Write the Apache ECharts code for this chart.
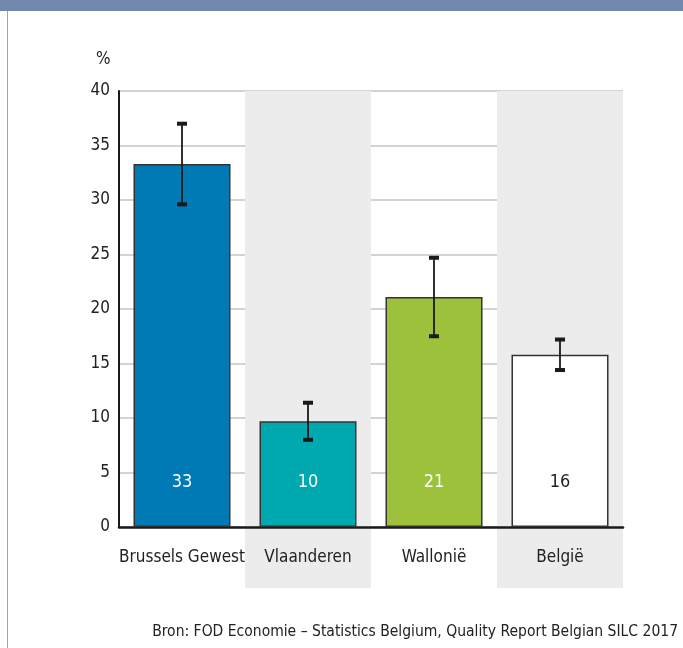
<!DOCTYPE html>
<html>
<head>
<meta charset="utf-8">
<script src="https://cdn.jsdelivr.net/npm/echarts@6/dist/echarts.min.js"></script>
<style>
  html, body { margin: 0; padding: 0; background: #fff; }
  #chart { width: 683px; height: 648px; }
</style>
</head>
<body>
<div id="chart"></div>
<script>
// regions and values (%)
const regions = ["Brussels Gewest", "Vlaanderen", "Wallonië", "België"];
const values = [33.3, 9.7, 21.1, 15.8];
const valueLabels = ["33", "10", "21", "16"];
const errLow = [29.6, 8.0, 17.5, 14.4];
const errHigh = [37.0, 11.4, 24.7, 17.2];
const barColors = ["#007ab5", "#00a8b0", "#9dc13a", "#ffffff"];
const labelColors = ["#ffffff", "#ffffff", "#ffffff", "#222222"];
const shaded = [0, 1, 0, 1];

const FONT = "'DejaVu Sans Condensed', sans-serif";

let myChart = echarts.init(document.getElementById("chart"));

const option = {
  animation: false,
  backgroundColor: "#ffffff",
  grid: { left: 119, right: 60, top: 91, bottom: 121 },
  graphic: [
    { type: "rect", shape: { x: 0, y: 0, width: 683, height: 11 }, style: { fill: "#7189ac" } },
    { type: "rect", shape: { x: 7, y: 11, width: 1, height: 637 }, style: { fill: "#93a7cc" } },
    {
      type: "text", left: 96, top: 51,
      style: { text: "%", fontSize: 17, fontFamily: FONT, fill: "#222" }
    },
    {
      type: "text", right: 5, top: 624,
      style: { text: "Bron: FOD Economie – Statistics Belgium, Quality Report Belgian SILC 2017", fontSize: 15.5, fontFamily: FONT, fill: "#222" }
    }
  ],
  xAxis: {
    type: "category",
    data: regions,
    axisLine: { lineStyle: { color: "#1a1a1a", width: 2.5 } },
    axisTick: { show: false },
    axisLabel: { interval: 0, color: "#222", fontSize: 17, fontFamily: FONT, margin: 22 }
  },
  yAxis: {
    type: "value",
    min: 0, max: 40, interval: 5,
    axisLine: { show: true, lineStyle: { color: "#1a1a1a", width: 2 } },
    axisTick: { show: false },
    axisLabel: { color: "#222", fontSize: 17, fontFamily: FONT, margin: 9 },
    splitLine: { lineStyle: { color: "#c4c4c4", width: 1.5 } }
  },
  series: [
    {
      // background bands for alternating categories
      type: "custom",
      z: 0,
      silent: true,
      clip: false,
      data: shaded.map((s, i) => [i, s]),
      renderItem: function (params, api) {
        if (!api.value(1)) return null;
        const top = api.coord([api.value(0), 40]);
        const bottom = api.coord([api.value(0), 0]);
        const w = api.size([1, 0])[0];
        return {
          type: "rect",
          shape: { x: top[0] - w / 2, y: top[1], width: w, height: bottom[1] - top[1] + 61 },
          style: { fill: "#ececec" }
        };
      }
    },
    {
      type: "bar",
      barWidth: "77%",
      z: 3,
      data: values.map((v, i) => ({
        value: v,
        itemStyle: { color: barColors[i], borderColor: "#333", borderWidth: 1.5 },
        label: {
          show: true,
          position: "insideBottom",
          distance: 36,
          formatter: valueLabels[i],
          color: labelColors[i],
          fontSize: 18,
          fontFamily: FONT
        }
      }))
    },
    {
      type: "custom",
      z: 5,
      data: regions.map((r, i) => [i, errLow[i], errHigh[i]]),
      renderItem: function (params, api) {
        const hi = api.coord([api.value(0), api.value(2)]);
        const lo = api.coord([api.value(0), api.value(1)]);
        const capW = 10, capH = 4;
        return {
          type: "group",
          children: [
            { type: "line", shape: { x1: hi[0], y1: hi[1], x2: lo[0], y2: lo[1] }, style: { stroke: "#1a1a1a", lineWidth: 1.8 } },
            { type: "rect", shape: { x: hi[0] - capW / 2, y: hi[1] - capH / 2, width: capW, height: capH }, style: { fill: "#1a1a1a" } },
            { type: "rect", shape: { x: lo[0] - capW / 2, y: lo[1] - capH / 2, width: capW, height: capH }, style: { fill: "#1a1a1a" } }
          ]
        };
      }
    }
  ]
};

myChart.setOption(option);
window.addEventListener("resize", myChart.resize);
</script>
</body>
</html>
